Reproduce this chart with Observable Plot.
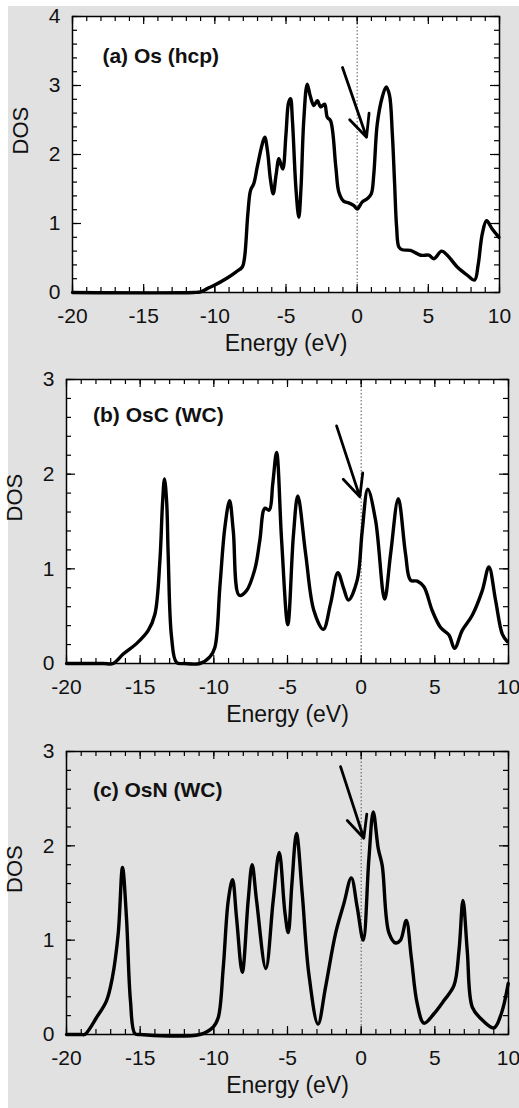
<!DOCTYPE html>
<html><head><meta charset="utf-8">
<script src="https://cdn.jsdelivr.net/npm/d3@7"></script>
<script src="https://cdn.jsdelivr.net/npm/@observablehq/plot@0.6"></script>
<style>
body{margin:0;background:#fff;}
#wrap{position:relative;width:519px;height:1108px;background:#fff;overflow:hidden;}
#bg{position:absolute;left:8px;top:6px;right:0;bottom:0;background:#e1e1e1;}
.panel{position:absolute;left:0;}
</style></head><body><div id="wrap"><div id="bg"></div></div>
<script>
// ---- data ----
const xMajorTicks = [-20, -15, -10, -5, 0, 5, 10];
const xLabel = "Energy (eV)";
const yLabel = "DOS";

const energyA = [-20, -11.5, -11.0, -10.5, -10.07, -9.13, -8.5, -8.07, -7.91, -7.68, -7.49, -7.26, -7.02, -6.67, -6.49, -6.3, -6.1, -5.90, -5.7, -5.5, -5.35, -5.22, -5.0, -4.82, -4.68, -4.55, -4.3, -4.10, -3.95, -3.75, -3.51, -3.3, -3.04, -2.80, -2.57, -2.29, -2.10, -1.87, -1.5, -1.28, -0.93, -0.6, -0.23, 0.0, 0.35, 0.71, 0.99, 1.17, 1.41, 1.76, 2.04, 2.27, 2.47, 2.63, 2.77, 2.93, 3.17, 3.75, 4.46, 5.04, 5.39, 5.93, 6.33, 7.03, 7.74, 8.25, 8.5, 8.79, 9.09, 9.49, 9.96];
const dosA = [0, 0, 0.01, 0.06, 0.10, 0.21, 0.30, 0.37, 0.51, 1.14, 1.48, 1.58, 1.82, 2.15, 2.25, 2.05, 1.65, 1.43, 1.7, 1.94, 1.85, 1.79, 2.3, 2.75, 2.81, 2.5, 1.5, 1.09, 1.5, 2.5, 3.02, 2.85, 2.71, 2.78, 2.69, 2.73, 2.54, 2.49, 1.82, 1.45, 1.32, 1.30, 1.26, 1.21, 1.31, 1.36, 1.43, 1.72, 2.44, 2.83, 2.98, 2.86, 2.30, 1.58, 0.95, 0.66, 0.62, 0.61, 0.54, 0.54, 0.49, 0.60, 0.54, 0.37, 0.25, 0.18, 0.40, 0.85, 1.04, 0.92, 0.80];

const energyB = [-20, -17.5, -16.83, -16.15, -15.25, -14.45, -14.0, -13.66, -13.48, -13.35, -13.2, -13.10, -12.87, -12.53, -12.0, -10.95, -10.27, -9.93, -9.59, -9.25, -8.93, -8.68, -8.28, -7.78, -7.21, -6.88, -6.54, -6.24, -6.0, -5.74, -5.4, -4.98, -4.6, -4.30, -3.77, -3.21, -2.57, -2.08, -1.58, -1.2, -0.86, -0.27, 0.07, 0.45, 0.98, 1.59, 2.0, 2.52, 3.01, 3.35, 3.81, 4.26, 4.82, 5.39, 5.96, 6.34, 6.86, 7.54, 8.22, 8.67, 9.12, 9.58, 9.92];
const dosB = [0, 0, 0, 0.10, 0.21, 0.35, 0.52, 1.09, 1.7, 1.95, 1.7, 1.16, 0.28, 0.01, 0, 0, 0.07, 0.17, 0.81, 1.44, 1.72, 1.40, 0.72, 0.77, 1.00, 1.30, 1.64, 1.62, 1.9, 2.23, 1.3, 0.41, 1.35, 1.77, 1.16, 0.56, 0.36, 0.63, 0.96, 0.8, 0.67, 0.88, 1.40, 1.84, 1.51, 0.68, 1.16, 1.74, 1.16, 0.88, 0.87, 0.81, 0.56, 0.38, 0.30, 0.16, 0.35, 0.51, 0.77, 1.02, 0.67, 0.31, 0.23];

const energyC = [-20, -19.0, -18.76, -17.96, -17.28, -16.88, -16.49, -16.2, -15.93, -15.66, -15.36, -15.0, -10.95, -10.04, -9.70, -9.36, -9.02, -8.73, -8.46, -8.07, -7.67, -7.40, -7.10, -6.47, -5.97, -5.56, -5.18, -4.95, -4.70, -4.39, -4.0, -3.55, -2.93, -2.42, -1.74, -1.17, -0.67, -0.27, 0.14, 0.52, 0.82, 1.16, 1.43, 1.88, 2.34, 2.67, 3.06, 3.40, 3.80, 4.26, 4.94, 5.62, 6.30, 6.64, 6.91, 7.20, 7.54, 8.11, 9.01, 9.51, 9.98];
const dosC = [0, 0, 0, 0.18, 0.36, 0.61, 1.07, 1.77, 1.24, 0.36, 0.01, 0, 0, 0.08, 0.18, 0.71, 1.42, 1.64, 1.24, 0.66, 1.42, 1.80, 1.42, 0.70, 1.42, 1.93, 1.30, 1.08, 1.6, 2.13, 1.49, 0.64, 0.11, 0.50, 1.07, 1.39, 1.66, 1.35, 1.0, 1.85, 2.36, 1.97, 1.79, 1.08, 0.97, 1.0, 1.21, 0.82, 0.33, 0.12, 0.22, 0.36, 0.52, 0.89, 1.42, 0.89, 0.29, 0.17, 0.07, 0.22, 0.54];

const panelLabels = ["(a) Os (hcp)", "(b) OsC (WC)", "(c) OsN (WC)"];
const labelX = [-17.9, -18.2, -18.2];
const labelY = [3.43, 2.62, 2.59];
const yMax = [4, 3, 3];
const yMajorTicks = [[0, 1, 2, 3, 4], [0, 1, 2, 3], [0, 1, 2, 3]];
// arrow: start (x1,y1) -> tip (x2,y2)
const arrowX1 = [-1.03, -1.67, -1.4];
const arrowY1 = [3.26, 2.51, 2.84];
const arrowX2 = [0.66, -0.09, 0.18];
const arrowY2 = [2.25, 1.76, 2.08];

// ---- layout ----
const layouts = [
  {top: 0, mT: 16, innerH: 276, mL: 72, mR: 20, fill: "white"},
  {top: 363, mT: 16, innerH: 284, mL: 66, mR: 11, fill: "white"},
  {top: 735, mT: 16, innerH: 283, mL: 66, mR: 11, fill: "none"}
];
const seriesE = [energyA, energyB, energyC];
const seriesD = [dosA, dosB, dosC];
const W = 519, mB = 72;
const FONT = "'Liberation Sans', Arial, Helvetica, sans-serif";

const wrap = document.getElementById("wrap");
for (let i = 0; i < 3; i++) {
  const L = layouts[i];
  const innerW = W - L.mL - L.mR;
  const data = seriesE[i].map((e, j) => ({e, d: seriesD[i][j]}));
  const xMinor = d3.range(-20, 10.001, 1);
  const yMinor = d3.range(0, yMax[i] + 0.001, 0.2).map(v => +v.toFixed(2));
  const tickStyle = {stroke: "black", strokeWidth: 1.2};
  const chart = Plot.plot({
    width: W,
    height: L.mT + L.innerH + mB,
    marginTop: L.mT, marginBottom: mB, marginLeft: L.mL, marginRight: L.mR,
    style: {fontFamily: FONT, background: "transparent", overflow: "visible"},
    x: {domain: [-20, 10]},
    y: {domain: [0, yMax[i]]},
    marks: [
      Plot.frame({fill: L.fill}),
      Plot.ruleX([0], {stroke: "#555", strokeWidth: 1, strokeDasharray: "1.5,2"}),
      // inward ticks
      Plot.tickX(xMinor, {x: d => d, insetTop: L.innerH - 5, ...tickStyle}),
      Plot.tickX(xMinor, {x: d => d, insetBottom: L.innerH - 5, ...tickStyle}),
      Plot.tickX(xMajorTicks, {x: d => d, insetTop: L.innerH - 8, ...tickStyle}),
      Plot.tickX(xMajorTicks, {x: d => d, insetBottom: L.innerH - 8, ...tickStyle}),
      Plot.tickY(yMinor, {y: d => d, insetRight: innerW - 5, ...tickStyle}),
      Plot.tickY(yMinor, {y: d => d, insetLeft: innerW - 5, ...tickStyle}),
      Plot.tickY(yMajorTicks[i], {y: d => d, insetRight: innerW - 9, ...tickStyle}),
      Plot.tickY(yMajorTicks[i], {y: d => d, insetLeft: innerW - 9, ...tickStyle}),
      Plot.axisX(xMajorTicks, {tickSize: 0, tickPadding: 16, tickFormat: d => String(d), fontSize: 21, fill: "#111", label: null}),
      Plot.axisY(yMajorTicks[i], {tickSize: 0, tickPadding: 12, tickFormat: d => String(d), fontSize: 21, fill: "#111", label: null}),
      Plot.text([xLabel], {frameAnchor: "bottom", dy: 58, fontSize: 23, fill: "#111"}),
      Plot.text([yLabel], {frameAnchor: "left", dx: -52, rotate: -90, fontSize: 22, fill: "#111"}),
      Plot.line(data, {x: "e", y: "d", curve: "catmull-rom", stroke: "black", strokeWidth: 3.4}),
      Plot.arrow([0], {x1: () => arrowX1[i], y1: () => arrowY1[i], x2: () => arrowX2[i], y2: () => arrowY2[i], bend: 0, stroke: "black", strokeWidth: 2.8, headLength: 13, headAngle: 50}),
      Plot.text([panelLabels[i]], {x: () => labelX[i], y: () => labelY[i], textAnchor: "start", fontSize: 21, fontWeight: "bold", fill: "#111"}),
      Plot.frame({stroke: "black", strokeWidth: 1.5})
    ]
  });
  chart.classList.add("panel");
  chart.style.top = L.top + "px";
  wrap.appendChild(chart);
}
</script>
</body></html>
